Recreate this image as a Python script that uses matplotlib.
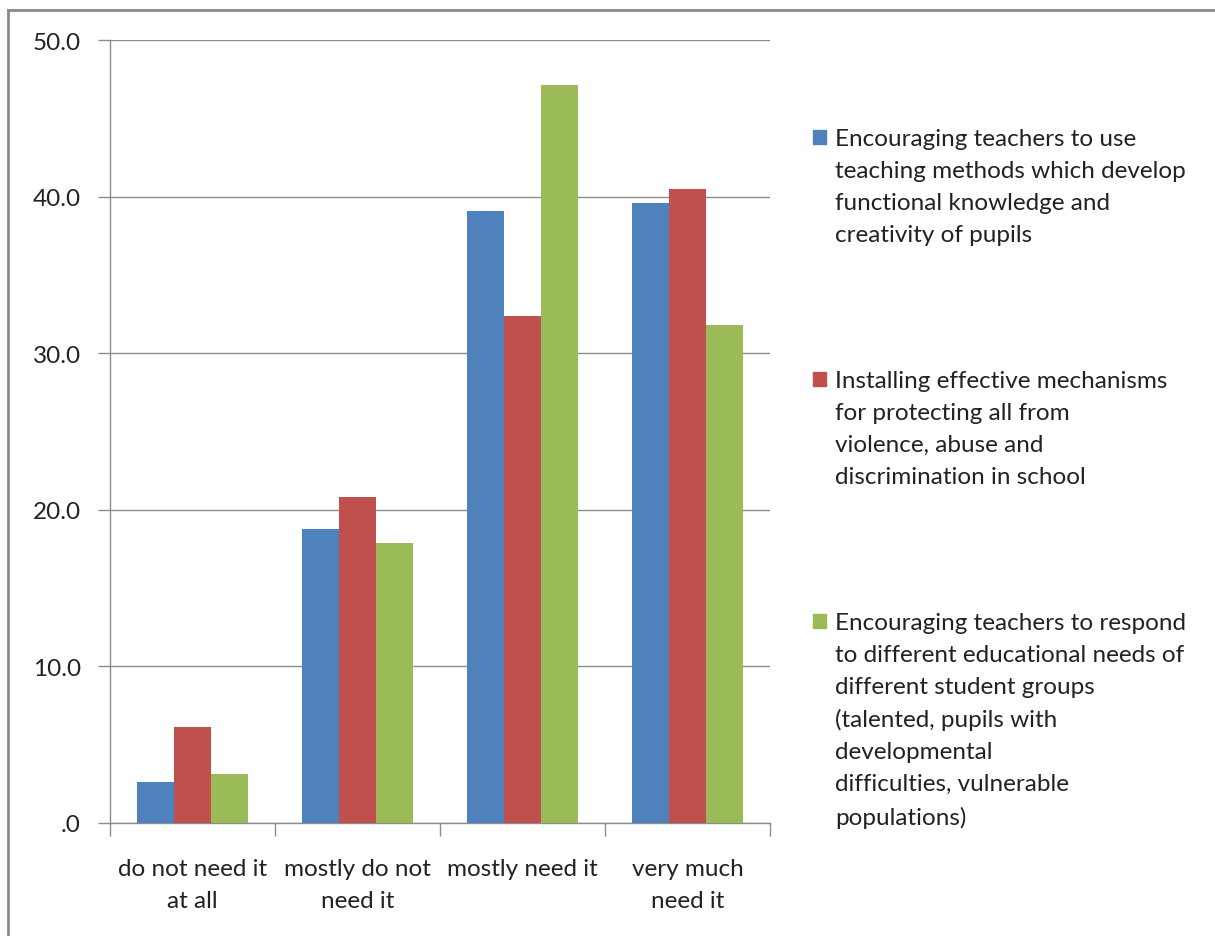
import matplotlib
matplotlib.use("Agg")
import matplotlib.pyplot as plt
from matplotlib.lines import Line2D
from matplotlib.patches import Rectangle
import numpy as np

plt.rcParams['font.family'] = ['Lato', 'DejaVu Sans']

categories = ["do not need it\nat all", "mostly do not\nneed it", "mostly need it", "very much\nneed it"]
series_labels = [
    "Encouraging teachers to use\nteaching methods which develop\nfunctional knowledge and\ncreativity of pupils",
    "Installing effective mechanisms\nfor protecting all from\nviolence, abuse and\ndiscrimination in school",
    "Encouraging teachers to respond\nto different educational needs of\ndifferent student groups\n(talented, pupils with\ndevelopmental\ndifficulties, vulnerable\npopulations)",
]
methods_vals = [2.6, 18.8, 39.1, 39.6]
protection_vals = [6.1, 20.8, 32.4, 40.5]
needs_vals = [3.1, 17.9, 47.1, 31.8]
y_ticks = [0, 10, 20, 30, 40, 50]
y_tick_labels = [".0", "10.0", "20.0", "30.0", "40.0", "50.0"]

colors = ["#4F81BD", "#C0504D", "#9BBB59"]
grid_color = "#8C8C8C"
text_color = "#222222"
fs = 17.5

W, H = 1215, 937
fig = plt.figure(figsize=(W / 100, H / 100), dpi=100)
ax = fig.add_axes([110 / W, 1 - 824 / H, 660 / W, 783 / H])

x = np.arange(len(categories))
bw = 0.225
all_vals = [methods_vals, protection_vals, needs_vals]
for i, vals in enumerate(all_vals):
    ax.bar(x + (i - 1) * bw, vals, width=bw, color=colors[i], zorder=3)

ax.set_xlim(-0.5, len(categories) - 0.5)
ax.set_ylim(0, 50)
ax.set_yticks(y_ticks)
ax.set_yticklabels(y_tick_labels, fontsize=fs, color=text_color)
ax.yaxis.grid(True, color=grid_color, linewidth=1.0, zorder=0)
ax.set_axisbelow(True)

# category labels centred, tick marks at category boundaries
ax.set_xticks(x)
ax.set_xticklabels(categories, fontsize=fs, color=text_color, linespacing=1.64)
ax.tick_params(axis='x', length=0, pad=25)
ax.set_xticks(np.arange(-0.5, len(categories)), minor=True)
ax.tick_params(axis='x', which='minor', length=9, color=grid_color, width=1.0)
ax.tick_params(axis='y', length=9, color=grid_color, width=1.0, pad=12)

for side in ["top", "right"]:
    ax.spines[side].set_visible(False)
for side in ["left", "bottom"]:
    ax.spines[side].set_color(grid_color)
    ax.spines[side].set_linewidth(1.0)

# legend drawn as swatches with wrapped text
entry_tops = [138, 380, 622]
for i, (lbl, top) in enumerate(zip(series_labels, entry_tops)):
    fig.patches.append(Rectangle((813 / W, 1 - (top + 7) / H), 13 / W, 14 / H,
                                 transform=fig.transFigure, color=colors[i]))
    fig.text(835 / W, 1 - (top - 9) / H, lbl, fontsize=fs, color=text_color,
             va="top", ha="left", linespacing=1.64)

# outer frame
fig.add_artist(Line2D([8 / W, 8 / W], [0, 1 - 11 / H], transform=fig.transFigure,
                      color="#8A8A8A", linewidth=2))
fig.add_artist(Line2D([8 / W, 1], [1 - 11 / H, 1 - 11 / H], transform=fig.transFigure,
                      color="#8A8A8A", linewidth=2))

fig.savefig("out.png", dpi=100)
